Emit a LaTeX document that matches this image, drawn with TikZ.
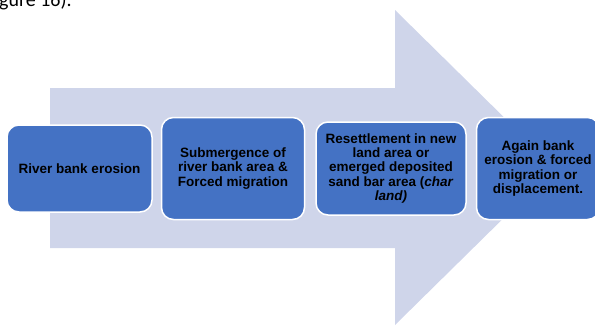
\documentclass[tikz,border=0pt]{standalone}
\usepackage{fontspec}
\setmainfont{Liberation Sans}
\newfontfamily\capfont{Carlito}
\usepackage{tikz}
\usetikzlibrary{positioning}

\definecolor{stepblue}{HTML}{4472C4}
\definecolor{arrowgrey}{HTML}{CFD5EA}
\tikzset{
    stepbox/.style={draw=white, line width=1.5pt, fill=stepblue, rounded corners=12pt,
        align=center, inner sep=2pt, font=\bfseries\fontsize{13.5}{14.3}\selectfont},
}

\begin{document}
\begin{tikzpicture}[x=1pt,y=-1pt]
    \useasboundingbox (0,0) rectangle (595,325);
    % big arrow in the back
    \fill[arrowgrey] (50,88) -- (395,88) -- (395,10) -- (555,167.5)
        -- (395,325) -- (395,248) -- (50,248) -- cycle;
    \node (Cap) [anchor=base west, inner sep=0pt, font=\capfont\fontsize{20}{20}\selectfont] at (-1,6) {gure 16).};
    \node (B1) [stepbox, minimum width=145pt, minimum height=87pt] at (79.5,168.5) {River bank erosion};
    \node (B2) [stepbox, minimum width=143pt, minimum height=102pt, right=8pt of B1] {Submergence of\\river bank area \&\\Forced migration};
    \node (B3) [stepbox, minimum width=150pt, minimum height=93pt, right=10pt of B2] {Resettlement in new\\land area or\\emerged deposited\\sand bar area (\textit{char}\\\textit{land)}};
    \node (B4) [stepbox, minimum width=123pt, minimum height=102pt, right=9pt of B3] {Again bank\\erosion \& forced\\migration or\\displacement.};
\end{tikzpicture}
\end{document}
